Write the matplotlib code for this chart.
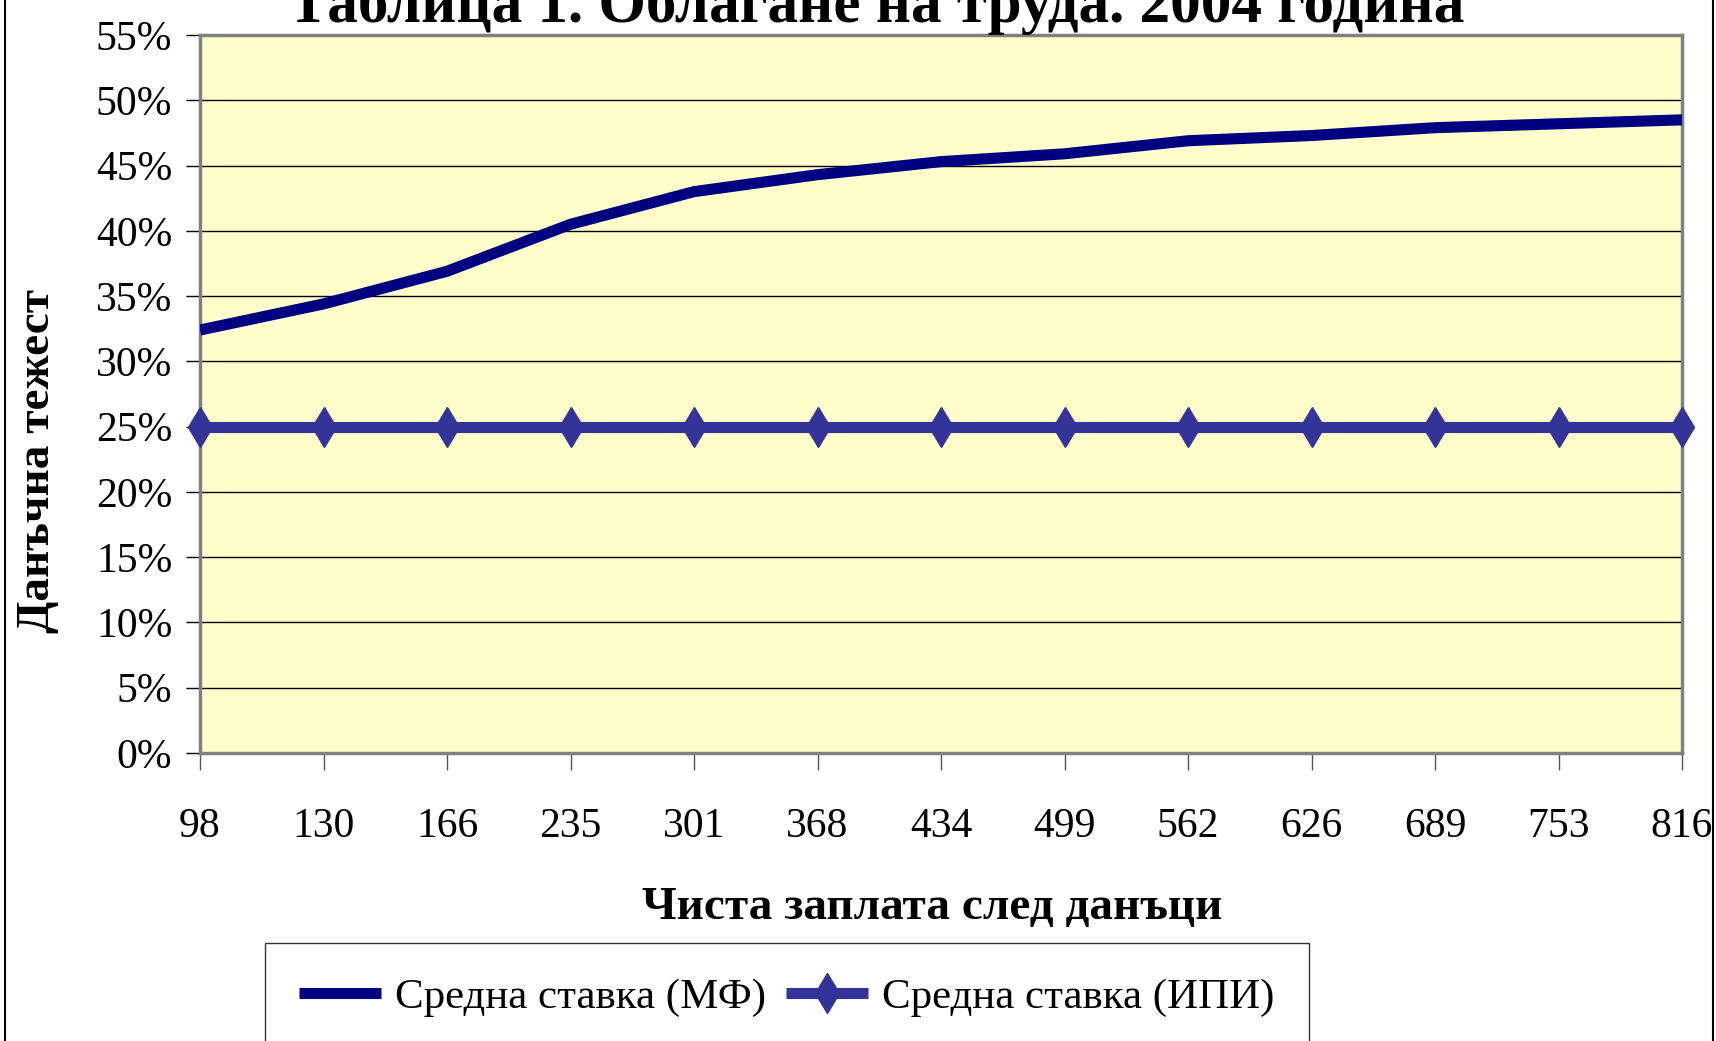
import numpy as np
import matplotlib
matplotlib.use("Agg")
import matplotlib.pyplot as plt
from matplotlib.patches import Rectangle
from matplotlib.ticker import FuncFormatter

plt.rcParams['font.family'] = ['Liberation Serif', 'DejaVu Serif']

# data
wages = ['98', '130', '166', '235', '301', '368', '434', '499', '562', '626', '689', '753', '816']
rate_mf = [0.324, 0.344, 0.369, 0.405, 0.430, 0.443, 0.453, 0.459, 0.469, 0.473, 0.479, 0.482, 0.485]
rate_ipi = [0.25] * 13
yticks = np.arange(0, 0.5501, 0.05)

title = 'Таблица 1. Облагане на труда. 2004 година'
xlabel = 'Чиста заплата след данъци'
ylabel = 'Данъчна тежест'
labels = ['Средна ставка (МФ)', 'Средна ставка (ИПИ)']

W, H = 1716, 1041
fig = plt.figure(figsize=(W / 100, H / 100), dpi=100)
fig.patch.set_facecolor('white')

# outer chart border (only the sides show)
fig.patches.append(Rectangle((5 / W, -0.05), 1708 / W, 1.2, transform=fig.transFigure,
                             fill=False, edgecolor='black', lw=1.5))

ax = fig.add_axes([200 / W, 1 - 753 / H, 1482 / W, 718 / H])
ax.set_facecolor('#FFFFCC')

x = np.arange(len(wages))
ax.plot(x, rate_mf, color='#000080', lw=8, solid_capstyle='butt', label=labels[0], zorder=3)
ax.plot(x, rate_ipi, color='#333399', lw=8, marker='d', markersize=20, solid_capstyle='butt',
        label=labels[1], clip_on=False, zorder=3)

ax.set_xlim(0, len(wages) - 1)
ax.set_ylim(0, 0.55)
ax.set_xticks(x)
ax.set_xticklabels(wages)
ax.set_yticks(yticks)
ax.yaxis.set_major_formatter(FuncFormatter(lambda v, p: f'{v * 100:.0f}%'))
ax.grid(axis='y', color='black', lw=1)
ax.set_axisbelow(True)

for s in ax.spines.values():
    s.set_color('#808080')
    s.set_linewidth(2.5)

ax.tick_params(axis='y', direction='out', length=10, width=1, color='black',
               labelsize=30, pad=10)
ax.tick_params(axis='x', direction='out', length=12, width=1, color='#555555',
               labelsize=30, pad=27)

# title is clipped by the top edge, as in the original
fig.text(876 / W, 1 - 22 / H, title, ha='center', va='baseline',
         fontsize=44, fontweight='bold')
fig.text(932 / W, 1 - 908 / H, xlabel, ha='center', va='center',
         fontsize=34, fontweight='bold')
fig.text(38 / W, 1 - 461 / H, ylabel, ha='center', va='center', rotation=90,
         fontsize=34, fontweight='bold')

leg = fig.legend(loc='upper left', bbox_to_anchor=(265 / W, 1 - 943 / H), ncol=2,
                 fontsize=31, frameon=True, fancybox=False, handlelength=1.9,
                 handletextpad=0.32, columnspacing=0.47, borderpad=0.8,
                 borderaxespad=0)
leg.get_frame().set_edgecolor('black')
leg.get_frame().set_linewidth(1)

fig.savefig('out.png', dpi=100)
